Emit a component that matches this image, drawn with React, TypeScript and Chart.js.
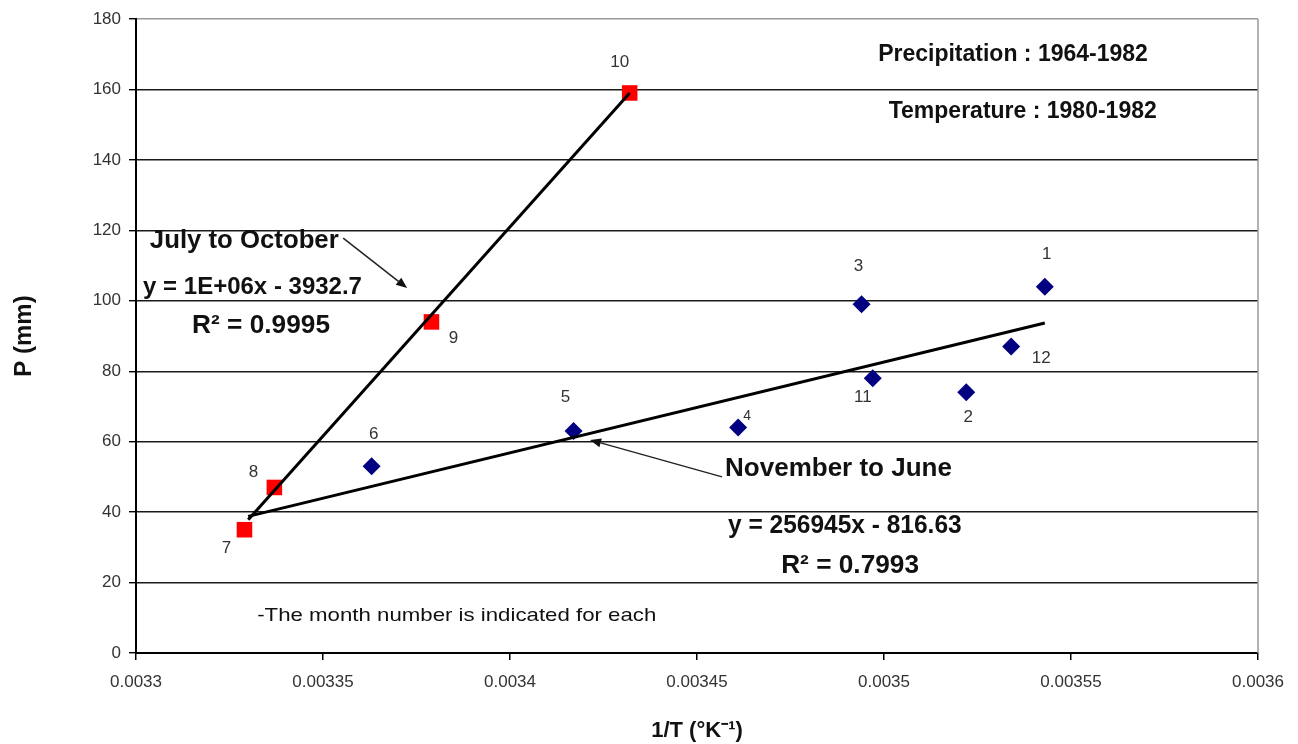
import React, { useEffect, useRef } from "react";
import { Chart, registerables } from "chart.js";

Chart.register(...registerables);

const FONT = "'Liberation Sans', Arial, Helvetica, sans-serif";

// July to October (red squares)
const JO_MONTHS = ["7", "8", "9", "10"];
const JO_X = [0.003329, 0.003337, 0.003379, 0.003432];
const JO_Y = [35, 47, 94, 159];

// November to June (blue diamonds)
const NJ_MONTHS = ["6", "5", "4", "3", "11", "2", "12", "1"];
const NJ_X = [0.003363, 0.003417, 0.003461, 0.003494, 0.003497, 0.003522, 0.003534, 0.003543];
const NJ_Y = [53, 63, 64, 99, 78, 74, 87, 104];

// Trend lines (end points)
const JO_TREND_X = [0.00333, 0.003432];
const JO_TREND_Y = [37.8, 159];
const NJ_TREND_X = [0.00333, 0.003543];
const NJ_TREND_Y = [38.8, 93.7];

// Axes
const X_TICKS = [0.0033, 0.00335, 0.0034, 0.00345, 0.0035, 0.00355, 0.0036];
const X_TICK_LABELS = ["0.0033", "0.00335", "0.0034", "0.00345", "0.0035", "0.00355", "0.0036"];
const Y_TICKS = [0, 20, 40, 60, 80, 100, 120, 140, 160, 180];

// Month label placement (pixel offsets from the marker, font size)
const LABEL_OFFSETS: Record<string, [number, number, number]> = {
  "1": [2, -32, 17],
  "2": [2, 25, 17],
  "3": [-3, -38, 17],
  "4": [9, -11, 14],
  "5": [-8, -34, 17],
  "6": [2, -32, 17],
  "7": [-18, 19, 17],
  "8": [-21, -15, 17],
  "9": [22, 16, 17],
  "10": [-10, -31, 17],
  "11": [-10, 19, 17],
  "12": [30, 12, 17],
};

// Text annotations (data coordinates)
const NOTE_TEXTS = [
  "Precipitation : 1964-1982",
  "Temperature : 1980-1982",
  "July to October",
  "y = 1E+06x - 3932.7",
  "R² = 0.9995",
  "November to June",
  "y = 256945x - 816.63",
  "R² = 0.7993",
  "-The month number is indicated for each",
];
const NOTE_X = [0.0035345, 0.0035371, 0.0033037, 0.0033019, 0.003315, 0.0034575, 0.0034583, 0.0034725, 0.0033324];
const NOTE_Y = [169.8, 153.6, 116.8, 103.9, 92.8, 52.1, 36.1, 24.6, 10.5];
const NOTE_ALIGN: CanvasTextAlign[] = ["center", "center", "left", "left", "left", "left", "left", "left", "left"];
const NOTE_SIZE = [23, 23, 25, 24, 25, 25, 25, 25, 19];
const NOTE_BOLD = [true, true, true, true, true, true, true, true, false];
const NOTE_STRETCH = [1, 1, 1.03, 1, 1.05, 1.04, 0.98, 1.05, 1.17];

// Arrows (tail -> tip, data coordinates)
const ARROW_FROM_X = [0.0033554, 0.0034567];
const ARROW_FROM_Y = [117.8, 50.0];
const ARROW_TO_X = [0.0033725, 0.0034214];
const ARROW_TO_Y = [103.6, 60.5];

const toPoints = (xs: number[], ys: number[]) => xs.map((x, i) => ({ x, y: ys[i] }));

const overlayPlugin = {
  id: "overlay",
  beforeDatasetsDraw(chart: any) {
    const { ctx, chartArea } = chart;
    ctx.save();
    ctx.strokeStyle = "#9a9a9a";
    ctx.lineWidth = 1.5;
    ctx.beginPath();
    ctx.moveTo(chartArea.right, chartArea.top);
    ctx.lineTo(chartArea.right, chartArea.bottom);
    ctx.stroke();
    ctx.restore();
  },
  afterDatasetsDraw(chart: any) {
    const { ctx } = chart;
    const xs = chart.scales.x;
    const ys = chart.scales.y;
    ctx.save();
    // month labels
    const groups: [number, string[]][] = [
      [2, JO_MONTHS],
      [3, NJ_MONTHS],
    ];
    ctx.fillStyle = "#333";
    ctx.textAlign = "center";
    ctx.textBaseline = "middle";
    for (const [idx, labels] of groups) {
      const meta = chart.getDatasetMeta(idx);
      meta.data.forEach((el: any, j: number) => {
        const lab = labels[j];
        const off = LABEL_OFFSETS[lab] || [0, -20, 17];
        ctx.font = `${off[2]}px ${FONT}`;
        ctx.fillText(lab, el.x + off[0], el.y + off[1]);
      });
    }
    // text notes
    ctx.fillStyle = "#111";
    NOTE_TEXTS.forEach((t, i) => {
      ctx.save();
      ctx.font = `${NOTE_BOLD[i] ? "bold " : ""}${NOTE_SIZE[i]}px ${FONT}`;
      ctx.textAlign = NOTE_ALIGN[i];
      ctx.textBaseline = "middle";
      ctx.translate(xs.getPixelForValue(NOTE_X[i]), ys.getPixelForValue(NOTE_Y[i]));
      ctx.scale(NOTE_STRETCH[i], 1);
      ctx.fillText(t, 0, 0);
      ctx.restore();
    });
    // arrows
    ARROW_FROM_X.forEach((_, i) => {
      const x1 = xs.getPixelForValue(ARROW_FROM_X[i]);
      const y1 = ys.getPixelForValue(ARROW_FROM_Y[i]);
      const x2 = xs.getPixelForValue(ARROW_TO_X[i]);
      const y2 = ys.getPixelForValue(ARROW_TO_Y[i]);
      const ang = Math.atan2(y2 - y1, x2 - x1);
      const head = 11;
      const half = 4.5;
      const bx = x2 - head * Math.cos(ang);
      const by = y2 - head * Math.sin(ang);
      ctx.strokeStyle = "#222";
      ctx.lineWidth = 1.5;
      ctx.beginPath();
      ctx.moveTo(x1, y1);
      ctx.lineTo(bx, by);
      ctx.stroke();
      ctx.fillStyle = "#111";
      ctx.beginPath();
      ctx.moveTo(x2, y2);
      ctx.lineTo(bx + half * Math.sin(ang), by - half * Math.cos(ang));
      ctx.lineTo(bx - half * Math.sin(ang), by + half * Math.cos(ang));
      ctx.closePath();
      ctx.fill();
    });
    ctx.restore();
  },
};

export default function App() {
  const ref = useRef<HTMLCanvasElement | null>(null);

  useEffect(() => {
    if (!ref.current) return;
    const chart = new Chart(ref.current, {
      type: "scatter",
      data: {
        datasets: [
          {
            label: "July to October trend",
            data: toPoints(JO_TREND_X, JO_TREND_Y),
            showLine: true,
            borderColor: "#000",
            borderWidth: 3,
            pointRadius: 0,
            fill: false,
          },
          {
            label: "November to June trend",
            data: toPoints(NJ_TREND_X, NJ_TREND_Y),
            showLine: true,
            borderColor: "#000",
            borderWidth: 3,
            pointRadius: 0,
            fill: false,
          },
          {
            label: "July to October",
            data: toPoints(JO_X, JO_Y),
            pointStyle: "rect",
            pointRadius: 11,
            backgroundColor: "#ff0000",
            borderColor: "#ff0000",
            borderWidth: 0,
          },
          {
            label: "November to June",
            data: toPoints(NJ_X, NJ_Y),
            pointStyle: "rectRot",
            pointRadius: 9,
            backgroundColor: "#000080",
            borderColor: "#000080",
            borderWidth: 0,
          },
        ],
      } as any,
      options: {
        responsive: false,
        animation: false,
        events: [],
        layout: { padding: { top: 19, right: 40, left: 0, bottom: 0 } },
        plugins: {
          legend: { display: false },
          tooltip: { enabled: false },
        },
        scales: {
          x: {
            type: "linear",
            position: "bottom",
            min: 0.0033,
            max: 0.0036,
            afterBuildTicks: (s: any) => {
              s.ticks = X_TICKS.map((v) => ({ value: v }));
            },
            afterFit: (s: any) => {
              s.height = 91;
            },
            ticks: {
              autoSkip: false,
              maxRotation: 0,
              padding: 12,
              color: "#333",
              font: { family: FONT, size: 17 },
              callback: (_v: any, i: number) => X_TICK_LABELS[i],
            },
            grid: {
              drawOnChartArea: false,
              drawTicks: true,
              tickLength: 7,
              color: "#000",
              lineWidth: 1.5,
            },
            border: { display: true, color: "#000", width: 2 },
            title: {
              display: true,
              text: "1/T (°K⁻¹)",
              color: "#111",
              font: { family: FONT, size: 22, weight: "bold" },
              padding: { top: 0, bottom: 0 },
            },
          },
          y: {
            type: "linear",
            min: 0,
            max: 180,
            afterBuildTicks: (s: any) => {
              s.ticks = Y_TICKS.map((v) => ({ value: v }));
            },
            afterFit: (s: any) => {
              s.width = 136;
            },
            ticks: {
              padding: 8,
              color: "#333",
              font: { family: FONT, size: 17 },
              callback: (v: any) => String(v),
            },
            grid: {
              color: (c: any) => (c.tick && c.tick.value === 180 ? "#9a9a9a" : "#1a1a1a"),
              tickColor: "#000",
              lineWidth: 1.4,
              tickLength: 7,
            },
            border: { display: true, color: "#000", width: 2 },
            title: {
              display: true,
              text: "P (mm)",
              color: "#111",
              font: { family: FONT, size: 24, weight: "bold" },
              padding: { top: 10, bottom: 0 },
            },
          },
        },
      } as any,
      plugins: [overlayPlugin],
    });
    return () => chart.destroy();
  }, []);

  return (
    <div style={{ position: "absolute", left: 0, top: 0, width: 1298, height: 744, background: "#fff" }}>
      <canvas ref={ref} width={1298} height={744} style={{ display: "block" }} />
    </div>
  );
}
